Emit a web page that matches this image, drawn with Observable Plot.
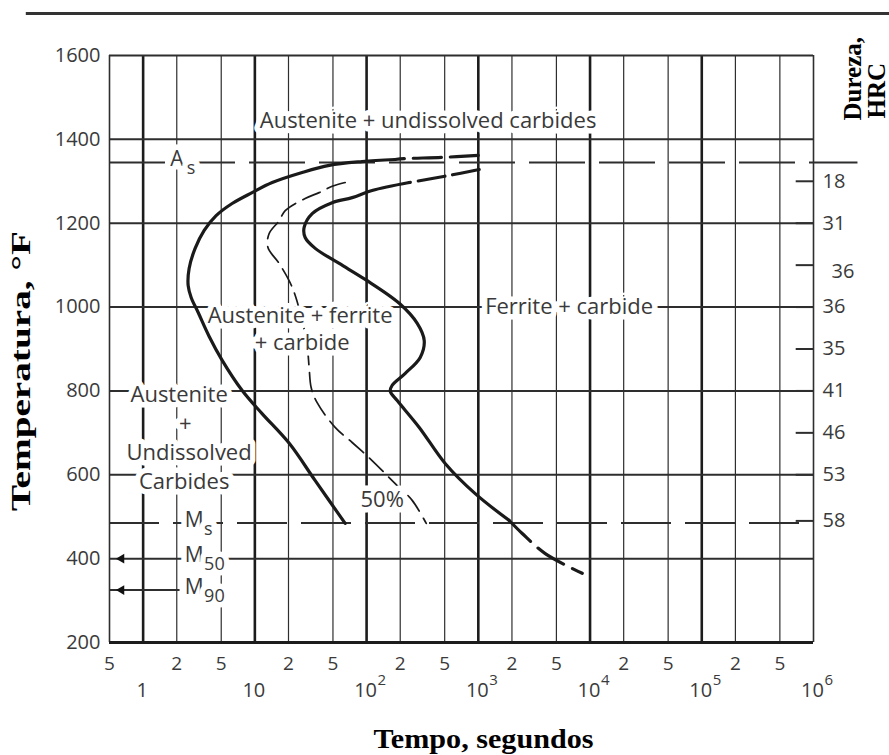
<!DOCTYPE html>
<html><head><meta charset="utf-8">
<script src="https://cdn.jsdelivr.net/npm/d3@7"></script>
<script src="https://cdn.jsdelivr.net/npm/@observablehq/plot@0.6"></script>
<style>body{margin:0;background:#fff}#chart svg{display:block}</style>
</head><body><div id="chart"></div>
<script>
// ---- axes / grid ----
const yTicks = [200, 400, 600, 800, 1000, 1200, 1400, 1600];
const gridMinor = [2, 5, 20, 50, 200, 500, 2000, 5000, 20000, 50000, 200000, 500000];
const gridDecades = [1, 10, 100, 1000, 10000, 100000];
const gridEdges = [0.5, 1000000];
const xMinorLabels = [0.5, 2, 5, 20, 50, 200, 500, 2000, 5000, 20000, 50000, 200000, 500000];
const xDecadeLabels = [1, 10, 100, 1000, 10000, 100000, 1000000];

// ---- critical temperatures (°F) ----
const asTemp = 1345;
const msTemp = 485;
const m50Temp = 400;
const m90Temp = 325;
const critLabels = [
  {base: "A", sub: "s", t: 2.0, T: 1345},
  {base: "M", sub: "s", t: 2.86, T: 485},
  {base: "M", sub: "50", t: 2.86, T: 400},
  {base: "M", sub: "90", t: 2.86, T: 325}
];

// ---- hardness (HRC) on right ----
const hardness = [
  {T: 1300, hrc: "18"}, {T: 1200, hrc: "31"}, {T: 1100, hrc: "36"},
  {T: 1000, hrc: "36"}, {T: 900, hrc: "35"}, {T: 800, hrc: "41"},
  {T: 700, hrc: "46"}, {T: 600, hrc: "53"}, {T: 490, hrc: "58"}
];

// ---- transformation curves [time s, temp °F] ----
const startDashed = [[1000,1362],[475,1357],[217,1354],[180,1352]];
const startSolid = [[180,1352],[91,1347],[46.3,1338],[26.5,1321],[14.3,1297],[9.45,1273],[6.26,1247],
  [4.5,1218],[3.52,1183],[2.92,1140],[2.58,1092],[2.53,1051],[2.69,1023],[3.11,987],[3.9,930],
  [5.1,873],[7.7,801],[11.6,746],[20.3,675],[34.7,586],[64.3,484]];
const fiftyCurve = [[64.3,1297],[49.2,1288],[37.6,1273],[28.2,1259],[18.7,1230],[16.5,1206],[13.4,1175],
  [13.1,1142],[16.5,1104],[21.6,1047],[26.5,968],[29.4,908],[30.6,856],[31.9,808],[36.1,772],
  [52.3,713],[74.3,677],[112,634],[153,598],[200,567],[256,539],[342,484]];
const finishDashedTop = [[1019,1328],[549,1314],[241,1297]];
const finishSolid = [[241,1297],[112,1278],[74.3,1261],[49.2,1249],[32.6,1223],[27.6,1190],[28.2,1166],
  [34.7,1140],[56.9,1104],[97.1,1066],[196,1009],[284,961],[328,920],[302,880],[222,842],
  [169,813],[163,799],[188,777],[296,713],[505,627],[938,555],[1891,491]];
const finishDashedBottom = [[1891,491],[2472,460],[3972,412],[8511,365]];

// ---- region labels ----
const phaseLabels = [
  {text: "Austenite + undissolved carbides", t: 355, T: 1443},
  {text: "Austenite + ferrite", t: 25.4, T: 980},
  {text: "+ carbide", t: 26.5, T: 915},
  {text: "Ferrite + carbide", t: 6500, T: 1000},
  {text: "Austenite", t: 2.1, T: 791},
  {text: "+", t: 2.38, T: 722},
  {text: "Undissolved", t: 2.58, T: 653},
  {text: "Carbides", t: 2.33, T: 582},
  {text: "50%", t: 138, T: 539}
];

const titleY = "Temperatura, °F";
const titleX = "Tempo, segundos";
const titleR1 = "Dureza,";
const titleR2 = "HRC";

const ink = "#1a1a1a";
const grid = "#2e2e2e";
const txt = "#3a3a3a";
const sans = "'Open Sans', sans-serif";
const serif = "'Liberation Serif', 'Times New Roman', serif";
const halo = {stroke: "white", strokeWidth: 11};

const px = d => d[0], py = d => d[1];
const titleStyle = {fontFamily: serif, fontWeight: "bold", fill: "#000", lineAnchor: "middle", text: d => d};

const chart = Plot.plot({
  width: 889, height: 755,
  marginLeft: 109, marginRight: 76, marginTop: 55, marginBottom: 113,
  x: {type: "log", domain: [0.5, 1e6], axis: null},
  y: {domain: [200, 1600], axis: null},
  style: {fontFamily: sans, background: "white"},
  marks: [
    // top page rule
    Plot.ruleY([1700], {x1: 0.09, x2: 5e6, stroke: "#333", strokeWidth: 3}),
    // vertical grid
    Plot.ruleX(gridMinor, {y1: 200, y2: 1600, stroke: grid, strokeWidth: 1.2}),
    Plot.ruleX(gridEdges, {y1: 200, y2: 1600, stroke: grid, strokeWidth: 1.6}),
    Plot.ruleX(gridDecades, {y1: 200, y2: 1600, stroke: "#1c1c1c", strokeWidth: 2.6}),
    // horizontal grid
    Plot.ruleY(yTicks.filter(d => d > 200), {x1: 0.5, x2: 1e6, stroke: grid, strokeWidth: 2}),
    Plot.ruleY([200], {x1: 0.5, x2: 1e6, stroke: "#1c1c1c", strokeWidth: 3}),
    // As and Ms dashed lines
    Plot.ruleY([asTemp], {x1: 0.5, x2: 2.5e6, stroke: grid, strokeWidth: 2, strokeDasharray: "56,14"}),
    Plot.ruleY([msTemp], {x1: 0.5, x2: 1e6, stroke: grid, strokeWidth: 2, strokeDasharray: "50,14"}),
    // M90 line and arrowheads
    Plot.ruleY([m90Temp], {x1: 0.5, x2: 2.14, stroke: grid, strokeWidth: 2}),
    Plot.dot([m50Temp, m90Temp], {x: 0.64, y: d => d, symbol: "triangle", rotate: -90, r: 3.6, fill: "#111", stroke: "none"}),
    // hardness ticks
    Plot.ruleY(hardness, {y: "T", x1: 7e5, x2: 1e6, stroke: grid, strokeWidth: 2}),
    // 50% curve (behind labels)
    Plot.line(fiftyCurve, {x: px, y: py, curve: "catmull-rom", stroke: ink, strokeWidth: 1.7, strokeDasharray: "19,8"}),
    // region labels with white boxes
    Plot.text(phaseLabels, {x: "t", y: "T", text: "text", fontSize: 22, fill: txt, ...halo}),
    Plot.text(critLabels, {x: "t", y: "T", text: "base", fontSize: 21, dy: -3, fill: txt, ...halo}),
    Plot.text(critLabels, {x: "t", y: "T", text: "sub", fontSize: 18, dx: 10, dy: 6, textAnchor: "start", fill: txt, ...halo}),
    // start / finish curves
    Plot.line(startSolid, {x: px, y: py, curve: "catmull-rom", stroke: ink, strokeWidth: 3.2}),
    Plot.line(startDashed, {x: px, y: py, curve: "catmull-rom", stroke: ink, strokeWidth: 3.2, strokeDasharray: "28,9"}),
    Plot.line(finishSolid, {x: px, y: py, curve: "catmull-rom", stroke: ink, strokeWidth: 3.2}),
    Plot.line(finishDashedTop, {x: px, y: py, curve: "catmull-rom", stroke: ink, strokeWidth: 3.2, strokeDasharray: "27,8"}),
    Plot.line(finishDashedBottom, {x: px, y: py, curve: "catmull-rom", stroke: ink, strokeWidth: 3.2, strokeDasharray: "30,10"}),
    // y tick labels
    Plot.text(yTicks, {x: 0.5, y: d => d, text: d => String(d), textAnchor: "end", dx: -9, fontSize: 20, fill: txt}),
    // x tick labels
    Plot.text(xMinorLabels, {x: d => d, y: 200, text: d => String(Math.round(d / Math.pow(10, Math.floor(Math.log10(d) + 1e-9)))), dy: 21, fontSize: 19, fill: txt}),
    Plot.text(xDecadeLabels, {x: d => d, y: 200, text: d => d === 1 ? "1" : "10", dy: 48, dx: -1, fontSize: 20, fill: txt}),
    Plot.text(xDecadeLabels.filter(d => d >= 100), {x: d => d, y: 200, text: d => String(Math.round(Math.log10(d))), dy: 38, dx: 11, textAnchor: "start", fontSize: 15, fill: txt}),
    // hardness labels
    Plot.text(hardness.filter(d => d.T !== 1100), {x: 1e6, y: "T", text: "hrc", textAnchor: "start", dx: 9, fontSize: 20, fill: txt}),
    Plot.text(hardness.filter(d => d.T === 1100), {x: 1e6, y: "T", text: "hrc", textAnchor: "start", dx: 18, dy: 6, fontSize: 20, fill: txt}),
    // axis titles
    Plot.text([titleY], {frameAnchor: "left", rotate: -90, textAnchor: "middle", dx: -88, dy: 22, fontSize: 28, ...titleStyle}),
    Plot.text([titleX], {frameAnchor: "bottom", textAnchor: "middle", dx: 22, dy: 97, fontSize: 28, ...titleStyle}),
    Plot.text([titleR1], {frameAnchor: "top-right", rotate: -90, textAnchor: "start", dx: 39, dy: 65, fontSize: 25, ...titleStyle}),
    Plot.text([titleR2], {frameAnchor: "top-right", rotate: -90, textAnchor: "start", dx: 63, dy: 63, fontSize: 25, ...titleStyle})
  ]
});
document.getElementById("chart").append(chart);
// stretch the axis titles to the reference's length
d3.select(chart).selectAll("text")
  .filter(function() { return this.textContent === titleY; })
  .attr("textLength", 280).attr("lengthAdjust", "spacingAndGlyphs");
d3.select(chart).selectAll("text")
  .filter(function() { return this.textContent === titleX; })
  .attr("textLength", 220).attr("lengthAdjust", "spacingAndGlyphs");
</script>
</body></html>
